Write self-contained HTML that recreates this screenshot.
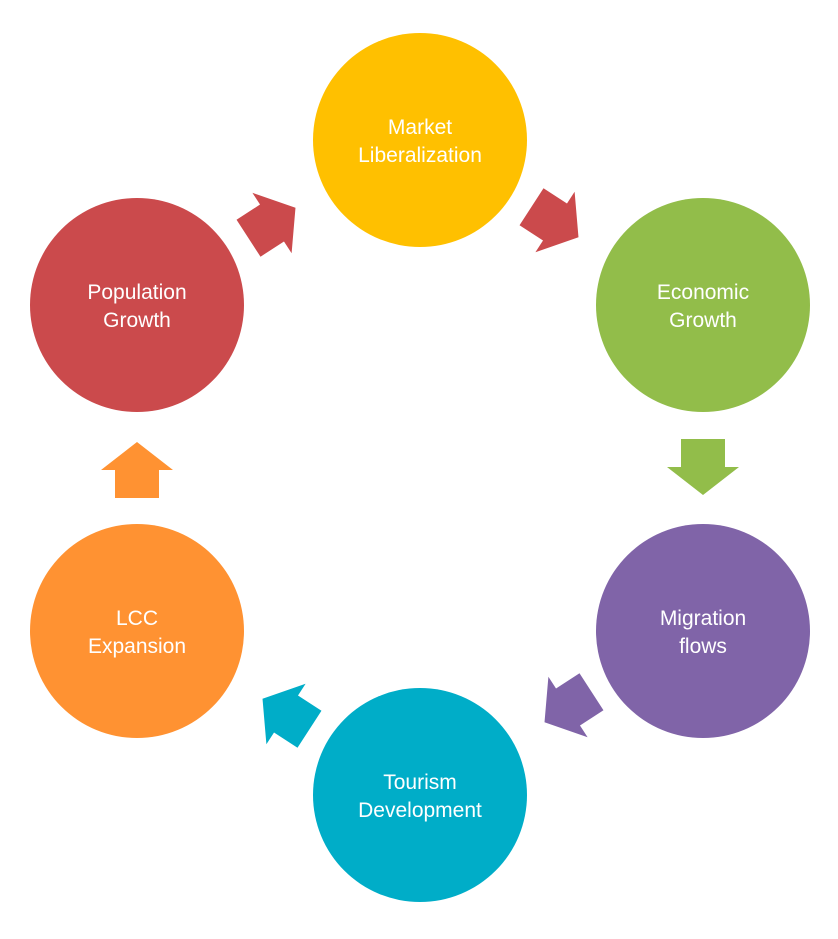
<!DOCTYPE html>
<html><head><meta charset="utf-8"><style>
html,body{margin:0;padding:0;background:#fff;}
svg text{font-family:"Liberation Sans",sans-serif;font-size:21px;fill:#fff;text-anchor:middle;}
</style></head><body>
<svg width="838" height="934" viewBox="0 0 838 934" xmlns="http://www.w3.org/2000/svg">
<defs>
<path id="ar" d="M-28,-22 L0,-22 L0,-36 L28,0 L0,36 L0,22 L-28,22 Z"/>
</defs>
<circle cx="420" cy="140" r="107" fill="#FFC000"/>
<circle cx="703" cy="305" r="107" fill="#92BD4A"/>
<circle cx="703" cy="631" r="107" fill="#8064A8"/>
<circle cx="420" cy="795" r="107" fill="#00ADC8"/>
<circle cx="137" cy="631" r="107" fill="#FF9232"/>
<circle cx="137" cy="305" r="107" fill="#CB4A4C"/>

<use href="#ar" fill="#CB4A4C" transform="translate(272,223) rotate(-33)"/>
<use href="#ar" fill="#CB4A4C" transform="translate(555,222) rotate(33)"/>
<use href="#ar" fill="#92BD4A" transform="translate(703,467) rotate(90)"/>
<use href="#ar" fill="#8064A8" transform="translate(568,707) rotate(147)"/>
<use href="#ar" fill="#00ADC8" transform="translate(286,714) rotate(-147)"/>
<use href="#ar" fill="#FF9232" transform="translate(137,470) rotate(-90)"/>

<text x="420" y="134">Market</text><text x="420" y="162">Liberalization</text>
<text x="703" y="299">Economic</text><text x="703" y="327">Growth</text>
<text x="703" y="625">Migration</text><text x="703" y="653">flows</text>
<text x="420" y="789">Tourism</text><text x="420" y="817">Development</text>
<text x="137" y="625">LCC</text><text x="137" y="653">Expansion</text>
<text x="137" y="299">Population</text><text x="137" y="327">Growth</text>
</svg>
</body></html>
